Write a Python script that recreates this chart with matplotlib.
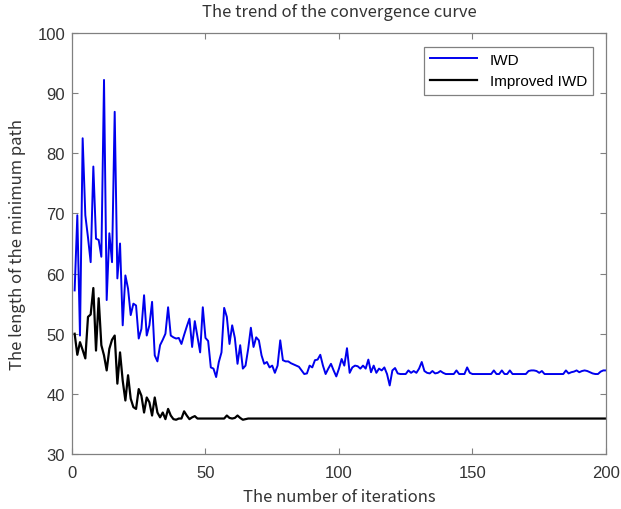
import numpy as np
import matplotlib
matplotlib.use('Agg')
import matplotlib.pyplot as plt

# values, iterations 1..200
iwd = [57.2, 69.7, 49.7, 82.5, 69.7, 66.0, 61.9, 77.8, 65.8, 65.6,
       62.8, 92.2, 55.6, 66.7, 61.9, 86.9, 59.2, 65.0, 51.4, 59.7,
       57.5, 53.1, 55.0, 54.7, 49.2, 50.8, 56.4, 49.7, 51.4, 55.3,
       46.4, 45.4, 48.1, 49.0, 50.0, 54.4, 49.7, 49.4, 49.2, 49.3,
       48.3, 49.8, 51.2, 52.5, 47.8, 52.1, 49.5, 46.9, 54.4, 49.3,
       48.8, 44.4, 44.2, 42.8, 45.3, 46.9, 54.3, 52.8, 48.3, 51.4,
       49.3, 45.0, 48.1, 44.2, 44.7, 47.5, 51.0, 47.8, 49.4, 48.9,
       46.4, 45.0, 45.3, 44.4, 44.7, 43.5, 44.7, 48.9, 45.6, 45.4,
       45.4, 45.1, 44.9, 44.7, 44.5, 43.9, 43.3, 43.4, 44.7, 44.4,
       45.6, 45.7, 46.5, 44.7, 43.3, 44.2, 45.0, 43.9, 42.9, 44.2,
       45.8, 44.7, 47.6, 43.5, 44.4, 44.7, 44.6, 44.2, 44.7, 44.2,
       45.7, 43.6, 44.7, 43.5, 44.2, 43.9, 44.4, 43.3, 41.4, 43.9,
       44.3, 43.4, 43.3, 43.3, 43.3, 43.9, 43.5, 43.8, 43.5, 44.2,
       45.3, 43.8, 43.5, 43.4, 43.8, 43.4, 43.5, 43.8, 43.5, 43.3,
       43.3, 43.3, 43.3, 43.9, 43.3, 43.3, 43.3, 44.4, 43.5, 43.3,
       43.3, 43.3, 43.3, 43.3, 43.3, 43.3, 43.3, 43.9, 43.3, 43.3,
       43.9, 43.3, 43.3, 43.9, 43.3, 43.3, 43.3, 43.3, 43.3, 43.3,
       43.8, 43.9, 43.9, 43.8, 43.5, 43.8, 43.3, 43.3, 43.3, 43.3,
       43.3, 43.3, 43.3, 43.3, 43.9, 43.4, 43.6, 43.7, 43.9, 43.6,
       43.8, 43.9, 43.8, 43.6, 43.4, 43.3, 43.3, 43.7, 43.9, 43.9]

improved = [50.0, 46.5, 48.6, 47.3, 45.9, 52.8, 53.2, 57.6, 47.2, 55.9,
            48.1, 46.4, 43.9, 47.5, 49.0, 49.7, 41.7, 46.9, 42.2, 38.9,
            43.1, 39.2, 37.8, 37.5, 40.8, 39.7, 36.9, 39.4, 38.6, 36.4,
            39.4, 36.9, 36.1, 36.9, 35.8, 37.5, 36.4, 35.8, 35.7, 35.9,
            35.9, 37.1, 36.4, 35.8, 36.1, 36.3, 35.9, 35.9, 35.9, 35.9,
            35.9, 35.9, 35.9, 35.9, 35.9, 35.9, 35.9, 36.4, 36.0, 35.9,
            36.0, 36.4, 36.0, 35.7, 35.8] + [35.9] * 135

iters = np.arange(1, len(iwd) + 1)

fig = plt.figure(figsize=(6.21, 5.10), dpi=100)
ax = fig.add_axes([0.1159, 0.1078, 0.8599, 0.8255])

ax.plot(iters, iwd, color='#0000ee', lw=1.4, label='IWD')
ax.plot(iters, improved, color='k', lw=1.6, label='Improved IWD')

ax.set_xlim(0, 200)
ax.set_ylim(30, 100)
ax.set_xticks(np.arange(0, 201, 50))
ax.set_yticks(np.arange(30, 101, 10))

grey = '#808080'
for s in ax.spines.values():
    s.set_color(grey)
    s.set_linewidth(0.9)
ax.tick_params(direction='in', top=True, right=True, length=4, width=0.8,
               color=grey, labelcolor='#333333', labelsize=12)
ax.tick_params(axis='x', pad=8)
ax.tick_params(axis='y', pad=5)
for lab in ax.get_xticklabels() + ax.get_yticklabels():
    lab.set_family(['Liberation Sans', 'DejaVu Sans'])

lblfont = dict(family=['Noto Sans CJK SC', 'DejaVu Sans'], size=12, color='#333333')
ax.set_title('The trend of the convergence curve', pad=12, **lblfont)
ax.set_xlabel('The number of iterations', labelpad=6, **lblfont)
ax.set_ylabel('The length of the minimum path', labelpad=8, **lblfont)

leg = ax.legend(loc='upper right', bbox_to_anchor=(0.9757, 0.9675), borderaxespad=0,
                fancybox=False, framealpha=1, edgecolor=grey, handlelength=3.1,
                prop={'family': 'Liberation Sans', 'size': 11})
leg.get_frame().set_linewidth(0.9)

fig.savefig('out.png', dpi=100)
